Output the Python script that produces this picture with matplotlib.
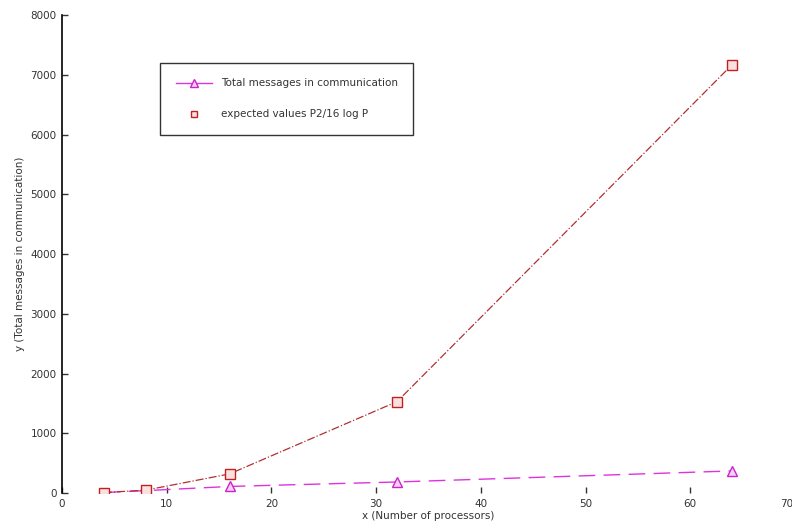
import matplotlib
matplotlib.use("Agg")
import matplotlib.pyplot as plt
import matplotlib.transforms as mtransforms
from matplotlib.lines import Line2D

# processor counts and measured / expected message totals
processors = [4, 8, 16, 32, 64]
total_messages = [8, 40, 110, 185, 370]
expected_values = [8, 48, 320, 1530, 7170]

x_ticks = [0, 10, 20, 30, 40, 50, 60, 70]
y_ticks = [0, 1000, 2000, 3000, 4000, 5000, 6000, 7000, 8000]

fig = plt.figure(figsize=(7.92, 5.29), dpi=100)
ax = fig.add_axes([0.0783, 0.068, 0.9255, 0.9036])

ax.plot(processors, total_messages, color="#dd33dd", lw=1.0,
        linestyle=(0, (12, 6)), marker="^", markersize=6.5,
        markerfacecolor="#f4d0f4", markeredgecolor="#cc22cc", zorder=3)
ax.plot(processors, expected_values, color="#b03030", lw=0.9,
        linestyle="-.", marker="s", markersize=6.5,
        markerfacecolor="#fbe0e0", markeredgecolor="#c02020", zorder=3)

ax.set_xlim(0, 70)
ax.set_ylim(0, 8000)
ax.set_xticks(x_ticks)
ax.set_yticks(y_ticks)
ax.set_xticklabels([str(v) for v in x_ticks])
ax.set_yticklabels([str(v) for v in y_ticks])

for side in ("top", "right", "bottom"):
    ax.spines[side].set_visible(False)
ax.spines["left"].set_linewidth(1.2)
ax.tick_params(direction="in", length=4, width=1.0, labelsize=7.5,
               colors="#333333", pad=4)

# the last x label sits at the figure edge; pull it inward so it stays whole
last = ax.get_xticklabels()[-1]
last.set_horizontalalignment("right")
last.set_transform(last.get_transform() +
                   mtransforms.ScaledTranslation(-0.02, 0, fig.dpi_scale_trans))

ax.set_xlabel("x (Number of processors)", fontsize=7.5, color="#333333", labelpad=2)
ax.set_ylabel("y (Total messages in communication)", fontsize=7.5,
              color="#333333", labelpad=4)

handles = [
    Line2D([], [], color="#dd33dd", lw=1.0, marker="^", markersize=6,
           markerfacecolor="#f4d0f4", markeredgecolor="#cc22cc"),
    Line2D([], [], color="none", marker="s", markersize=5,
           markerfacecolor="#fbe0e0", markeredgecolor="#c02020"),
]
leg = ax.legend(handles,
                ["Total messages in communication",
                 "expected values P2/16 log P"],
                loc="upper left", bbox_to_anchor=(0.134, 0.9),
                fontsize=7.5, frameon=True, fancybox=False,
                edgecolor="black", handlelength=3.5, borderpad=1.5,
                labelspacing=2.0, handletextpad=0.8, borderaxespad=0)
leg.get_frame().set_linewidth(1.0)
for t in leg.get_texts():
    t.set_color("#333333")

fig.savefig("out.png", dpi=100)
